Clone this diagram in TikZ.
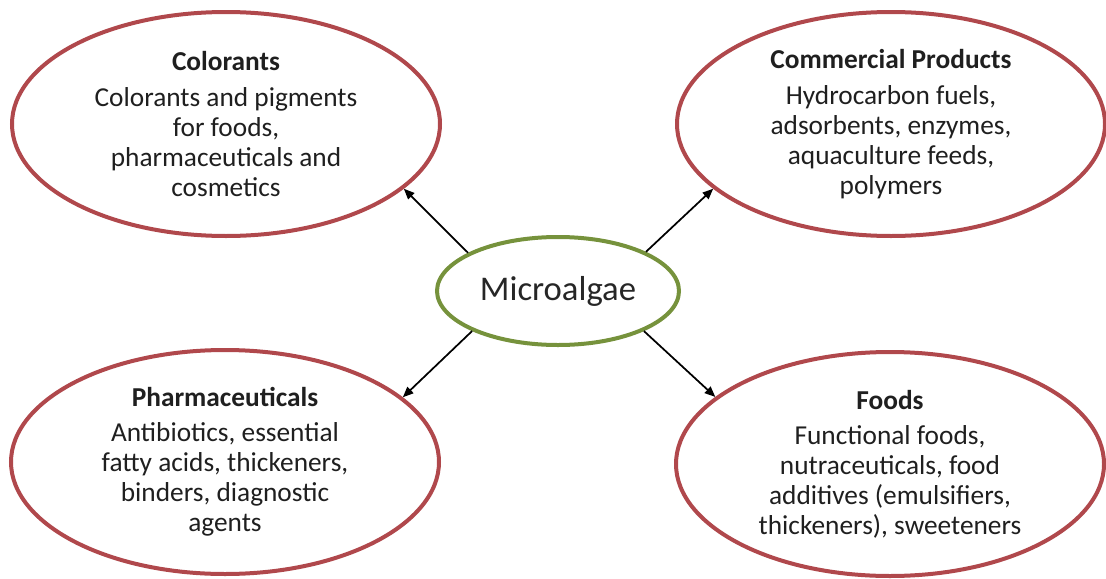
\documentclass[tikz,border=0pt]{standalone}
\usepackage{fontspec}
\setmainfont{Carlito}
\usetikzlibrary{shapes.geometric,arrows.meta}

\definecolor{usered}{RGB}{176,72,76}
\definecolor{usegreen}{RGB}{118,146,60}

\tikzset{every picture/.style={line width=0.75pt}}
\tikzset{
  usebox/.style={ellipse, draw=usered, line width=3pt, minimum width=321pt, minimum height=168pt, inner sep=0pt, align=center, text=black!88, font=\fontsize{20.5}{22.5}\selectfont},
  algaebox/.style={ellipse, draw=usegreen, line width=3pt, minimum width=181.5pt, minimum height=81pt, inner sep=0pt, text=black!85, font=\fontsize{26}{30}\selectfont},
  usearrow/.style={-{Triangle[length=8pt,width=6.5pt]}, line width=1.3pt}
}

\begin{document}
\begin{tikzpicture}[x=0.75pt,y=0.75pt,yscale=-1,xscale=1]
\useasboundingbox (0,0) rectangle (1106,578);

%Shape: Ellipse (centre)
\node [algaebox] (algae) at (558,291) {Microalgae};

%Shape: Ellipse (top left)
\node [usebox] (colorants) at (226,124) {\textbf{Colorants}\\[4pt] Colorants and pigments\\ for foods,\\ pharmaceuticals and\\ cosmetics};
%Shape: Ellipse (top right)
\node [usebox] (commercial) at (891,124) {\textbf{Commercial Products}\\[4pt] Hydrocarbon fuels,\\ adsorbents, enzymes,\\ aquaculture feeds,\\ polymers};
%Shape: Ellipse (bottom left)
\node [usebox] (pharma) at (225,462) {\textbf{Pharmaceuticals}\\[4pt] Antibiotics, essential\\ fatty acids, thickeners,\\ binders, diagnostic\\ agents};
%Shape: Ellipse (bottom right)
\node [usebox] (foods) at (890,464) {\textbf{Foods}\\[4pt] Functional foods,\\ nutraceuticals, food\\ additives (emulsifiers,\\ thickeners), sweeteners};

%Straight Lines
\draw [usearrow] (algae.157) -- (colorants.340);
\draw [usearrow] (algae.24) -- (commercial.200);
\draw [usearrow] (algae.205) -- (pharma.20);
\draw [usearrow] (algae.335) -- (foods.159);

\end{tikzpicture}
\end{document}
